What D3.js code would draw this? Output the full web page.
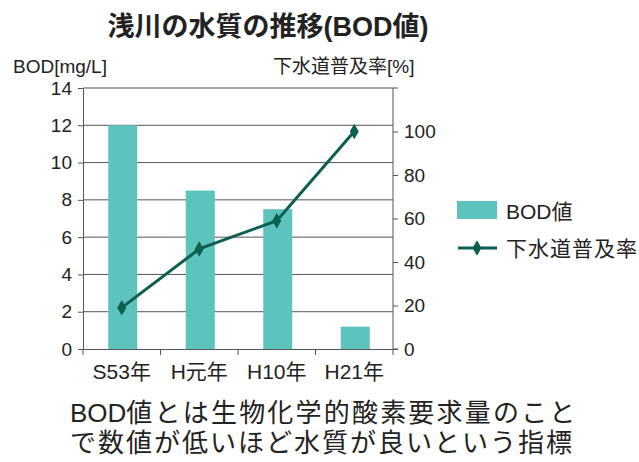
<!DOCTYPE html>
<html><head><meta charset="utf-8">
<script src="https://cdn.jsdelivr.net/npm/d3@7"></script>
<style>
body{margin:0;background:#fff;}
text{font-family:"Liberation Sans","Noto Sans CJK JP",sans-serif;fill:#222;}
</style></head>
<body><svg id="c" width="639" height="462"></svg>
<script>
const categories = ["S53年","H元年","H10年","H21年"];
const bodValues = [12, 8.5, 7.5, 1.2];
const sewerRates = [19, 46, 59, 100];
const leftTicks = [0,2,4,6,8,10,12,14];
const rightTicks = [0,20,40,60,80,100];

const svg = d3.select("#c");
const m = {l:83, r:393, t:88, b:349};
const barColor = "#5CC4BD", lineColor = "#0B5E50", gridColor = "#555";

const x = d3.scaleBand().domain(categories).range([m.l, m.r]);
const yL = d3.scaleLinear().domain([0,14]).range([m.b, m.t]);
const yR = d3.scaleLinear().domain([0,120]).range([m.b, m.t]);

// gridlines
svg.append("g").selectAll("line").data(leftTicks.filter(d=>d>0)).join("line")
  .attr("x1", m.l).attr("x2", m.r).attr("y1", d=>yL(d)).attr("y2", d=>yL(d))
  .attr("stroke", gridColor).attr("stroke-width", 1);

// bars
const bw = 29;
svg.append("g").selectAll("rect").data(bodValues).join("rect")
  .attr("x", (d,i)=>x(categories[i]) + x.bandwidth()/2 - bw/2 + 1)
  .attr("y", d=>yL(d)).attr("width", bw).attr("height", d=>m.b - yL(d))
  .attr("fill", barColor);

// left axis
const gL = svg.append("g").attr("transform",`translate(${m.l},0)`)
  .call(d3.axisLeft(yL).tickValues(leftTicks).tickSize(5).tickPadding(6));
gL.selectAll("text").style("font-size","19px").attr("fill","#222");
gL.selectAll("line,path").attr("stroke", gridColor);

// right axis
const gR = svg.append("g").attr("transform",`translate(${m.r},0)`)
  .call(d3.axisRight(yR).tickValues(rightTicks).tickSize(5).tickPadding(6));
gR.selectAll("text").style("font-size","19px").attr("fill","#222");
gR.selectAll("line,path").attr("stroke", gridColor);
gR.select(".domain").attr("d", `M5,${m.t}H0V${m.b}H5`);

// bottom axis
const gB = svg.append("g").attr("transform",`translate(0,${m.b})`)
  .call(d3.axisBottom(x).tickSize(0).tickPadding(15));
gB.select(".domain").attr("stroke", gridColor);
gB.selectAll("text").style("font-size","21px").attr("fill","#222");
svg.append("g").selectAll("line").data(d3.range(categories.length+1)).join("line")
  .attr("x1", i=>m.l + i*x.step()).attr("x2", i=>m.l + i*x.step())
  .attr("y1", m.b).attr("y2", m.b+6).attr("stroke", gridColor);

// line
const line = d3.line().x((d,i)=>x(categories[i]) + x.bandwidth()/2).y(d=>yR(d));
svg.append("path").datum(sewerRates).attr("d", line)
  .attr("fill","none").attr("stroke", lineColor).attr("stroke-width", 3);
svg.append("g").selectAll("path").data(sewerRates).join("path")
  .attr("d", d3.symbol(d3.symbolDiamond, 70))
  .attr("transform",(d,i)=>`translate(${x(categories[i]) + x.bandwidth()/2},${yR(d)})`)
  .attr("fill", lineColor);

// titles
svg.append("text").attr("x", 268).attr("y", 36).attr("text-anchor","middle")
  .style("font-size","27px").style("font-weight","bold").text("浅川の水質の推移(BOD値)");
svg.append("text").attr("x", 13).attr("y", 73).style("font-size","19px").text("BOD[mg/L]");
svg.append("text").attr("x", 273).attr("y", 73).style("font-size","19px").text("下水道普及率[%]");

// legend
svg.append("rect").attr("x",457).attr("y",201).attr("width",40).attr("height",18).attr("fill",barColor);
svg.append("text").attr("x",506).attr("y",219).style("font-size","21px").text("BOD値");
svg.append("line").attr("x1",458).attr("x2",497).attr("y1",248).attr("y2",248)
  .attr("stroke",lineColor).attr("stroke-width",3);
svg.append("path").attr("d", d3.symbol(d3.symbolDiamond, 70))
  .attr("transform","translate(477,248)").attr("fill",lineColor);
svg.append("text").attr("x",506).attr("y",256).style("font-size","21px").style("letter-spacing","1px").text("下水道普及率");

// note
const n1 = svg.append("text").attr("x",70).attr("y",422).style("font-size","26px");
n1.append("tspan").text("BOD");
n1.append("tspan").style("letter-spacing","2.2px").text("値とは生物化学的酸素要求量のこと");
svg.append("text").attr("x",70).attr("y",452).style("font-size","26px").style("letter-spacing","2px").text("で数値が低いほど水質が良いという指標");
</script></body></html>
